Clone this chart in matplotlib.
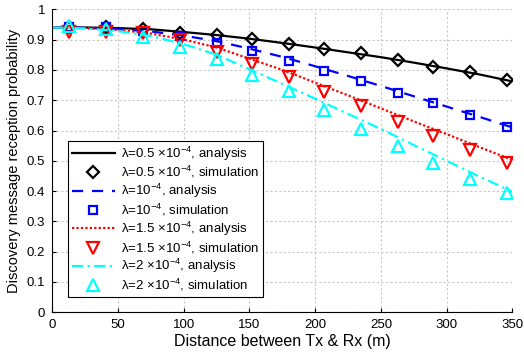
import numpy as np
import matplotlib
matplotlib.use('Agg')
import matplotlib.pyplot as plt

plt.rcParams['font.family'] = ['Liberation Sans', 'DejaVu Sans']
plt.rcParams['mathtext.fontset'] = 'custom'
plt.rcParams['mathtext.rm'] = 'Liberation Sans'

# analysis curves, read every 25 m
x_ana = [0, 25, 50, 75, 100, 125, 150, 175, 200, 225, 250, 275, 300, 325, 350]
ana_05 = [0.940, 0.940, 0.938, 0.934, 0.925, 0.915, 0.903, 0.889, 0.874, 0.858, 0.842, 0.824, 0.805, 0.785, 0.762]
ana_10 = [0.940, 0.939, 0.935, 0.927, 0.913, 0.895, 0.870, 0.843, 0.812, 0.780, 0.747, 0.713, 0.679, 0.645, 0.610]
ana_15 = [0.940, 0.938, 0.932, 0.920, 0.900, 0.874, 0.837, 0.800, 0.758, 0.716, 0.673, 0.630, 0.588, 0.545, 0.503]
ana_20 = [0.940, 0.937, 0.928, 0.912, 0.885, 0.850, 0.802, 0.754, 0.705, 0.655, 0.605, 0.552, 0.500, 0.448, 0.398]

# simulation points
x_sim = [13, 41, 69, 97, 125, 152, 180, 207, 235, 263, 290, 318, 346]
sim_05 = [0.943, 0.941, 0.935, 0.923, 0.916, 0.902, 0.885, 0.869, 0.857, 0.832, 0.811, 0.792, 0.767]
sim_10 = [0.943, 0.941, 0.929, 0.912, 0.888, 0.861, 0.830, 0.797, 0.763, 0.725, 0.690, 0.650, 0.613]
sim_15 = [0.926, 0.926, 0.923, 0.899, 0.860, 0.819, 0.776, 0.728, 0.681, 0.629, 0.582, 0.536, 0.492]
sim_20 = [0.945, 0.934, 0.908, 0.877, 0.835, 0.783, 0.730, 0.668, 0.604, 0.549, 0.492, 0.439, 0.393]

lams = ['0.5 ×10', '10', '1.5 ×10', '2 ×10']

fig = plt.figure(figsize=(5.24, 3.54), dpi=100)
ax = fig.add_axes([0.0998, 0.1178, 0.8780, 0.8559])

lw = 1.6
ax.plot(x_ana, ana_05, color='black', lw=lw, label='λ=' + lams[0] + '$^{-4}$, analysis')
ax.plot(x_sim, sim_05, ls='none', marker='D', ms=6.5, mfc='none', mec='black', mew=1.6,
        label='λ=' + lams[0] + '$^{-4}$, simulation')
ax.plot(x_ana, ana_10, color='blue', lw=lw, ls=(0, (5, 4)), label='λ=' + lams[1] + '$^{-4}$, analysis')
ax.plot(x_sim, sim_10, ls='none', marker='s', ms=6, mfc='none', mec='blue', mew=1.6,
        label='λ=' + lams[1] + '$^{-4}$, simulation')
ax.plot(x_ana, ana_15, color='red', lw=lw, ls=(0, (1, 1)), label='λ=' + lams[2] + '$^{-4}$, analysis')
ax.plot(x_sim, sim_15, ls='none', marker='v', ms=8, mfc='none', mec='red', mew=1.6,
        label='λ=' + lams[2] + '$^{-4}$, simulation')
ax.plot(x_ana, ana_20, color='cyan', lw=lw, ls=(0, (5, 2, 1, 2)), label='λ=' + lams[3] + '$^{-4}$, analysis')
ax.plot(x_sim, sim_20, ls='none', marker='^', ms=8, mfc='none', mec='cyan', mew=1.6,
        label='λ=' + lams[3] + '$^{-4}$, simulation')

ax.set_xlim(0, 350)
ax.set_ylim(0, 1)
ax.set_xticks(np.arange(0, 351, 50))
ax.set_yticks(np.arange(0, 1.01, 0.1))
ax.set_yticklabels(['0', '0.1', '0.2', '0.3', '0.4', '0.5', '0.6', '0.7', '0.8', '0.9', '1'])
ax.grid(True, color='#c8c8c8', ls=(0, (2, 2)), lw=0.8)
ax.spines['top'].set_visible(False)
ax.spines['right'].set_visible(False)
ax.tick_params(direction='in', length=3, labelsize=9.5, pad=5)
ax.set_xlabel('Distance between Tx & Rx (m)', fontsize=11.5, labelpad=2)
ax.set_ylabel('Discovery message reception probability', fontsize=10.5, labelpad=4)

leg = ax.legend(loc='lower left', bbox_to_anchor=(0.035, 0.05), borderaxespad=0, fontsize=9.5,
                frameon=True, fancybox=False, edgecolor='black', framealpha=1, handlelength=3.2,
                labelspacing=0.12, borderpad=0.3, handletextpad=0.5)
leg.get_frame().set_linewidth(0.8)

fig.savefig('out.png', dpi=100)
